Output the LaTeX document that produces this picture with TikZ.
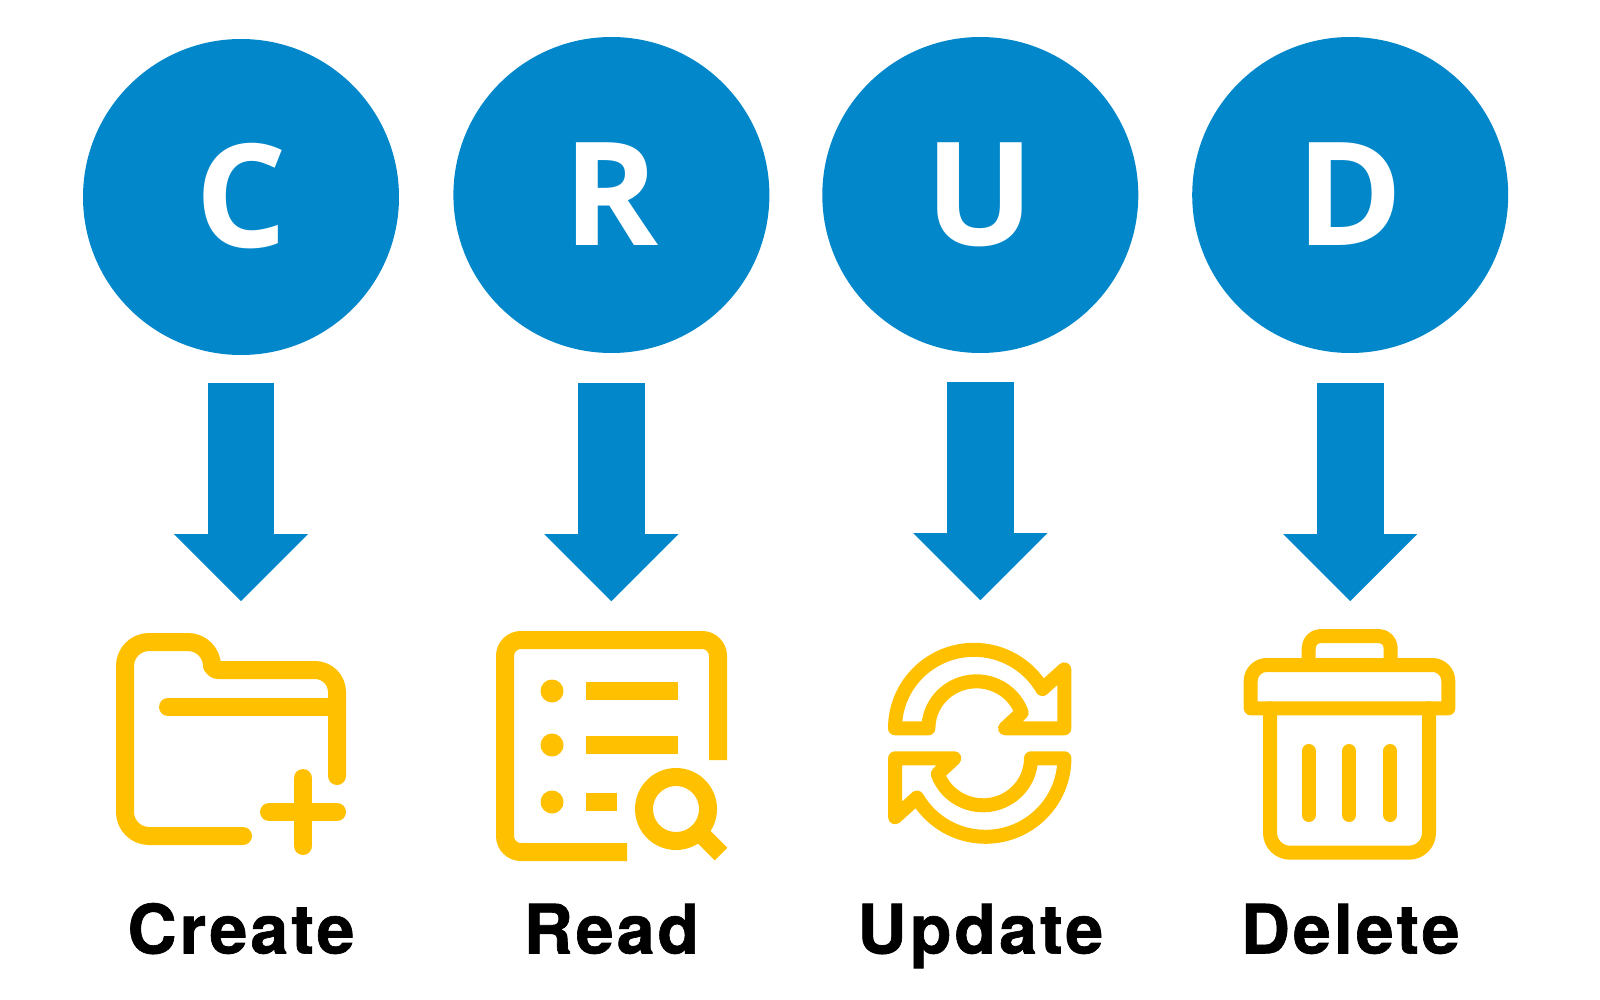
\documentclass[tikz,border=0pt]{standalone}
\usepackage{fontspec}
\newfontfamily\letterfont{Open Sans}
\newfontfamily\wordfont[LetterSpace=4.5,BoldFeatures={FakeBold=1}]{TeX Gyre Heros}
\usepackage{xcolor}
\definecolor{myblue}{RGB}{2,135,202}
\definecolor{myyellow}{RGB}{255,192,0}
\usetikzlibrary{positioning}
\usetikzlibrary{arrows.meta}
\tikzset{letter node/.style={circle,fill=myblue,text=white,minimum size=316pt,inner sep=0pt,text height=104pt,text depth=3.5pt,font=\letterfont\bfseries\fontsize{144}{144}\selectfont},}
\tikzset{word node/.style={inner sep=0pt,text height=50pt,text depth=0pt,font=\wordfont\bfseries\fontsize{68}{68}\selectfont},}
\tikzset{flow arrow/.style={color=myblue,line width=66.6pt,-{Triangle[width=134pt,length=67pt,line width=0pt]}},}
\tikzset{icon line/.style={draw=myyellow,line width=18pt,line cap=round,line join=round},}
\tikzset{icon bar/.style={draw=myyellow,line width=18pt},}

\begin{document}
\begin{tikzpicture}[x=1pt,y=-1pt]
	\useasboundingbox (0,0) rectangle (1600,1000);
	\node[letter node] (c) at (241,197) {C};
	\node[letter node] (r) [right = 54pt of c, yshift=2pt] {R};
	\node[letter node] (u) [right = 52.5pt of r] {U};
	\node[letter node] (d) [right = 53.5pt of u] {D};

	\coordinate[below = 246pt of c] (ctip);
	\coordinate[below = 248pt of r] (rtip);
	\coordinate[below = 247pt of u] (utip);
	\coordinate[below = 248pt of d] (dtip);

	\path[flow arrow]
	(c) edge [shorten <=28pt] (ctip)
	(r) edge [shorten <=30pt] (rtip)
	(u) edge [shorten <=29pt] (utip)
	(d) edge [shorten <=30pt] (dtip);

	% folder
	\draw[icon line] (243,836) [rounded corners=24pt] -- (125,836) -- (125,642) -- (212,642) [rounded corners=6pt] -- (212,670) [rounded corners=22pt] -- (337,670) -- (337,776);
	\draw[icon line] (168,707) -- (337,707);
	\draw[icon line] (303,778) -- (303,846);
	\draw[icon line] (269,812) -- (337,812);

	% list and magnifier
	\draw[icon bar,rounded corners=16pt] (627,852) -- (505,852) -- (505,640) -- (718,640) -- (718,760);
	\draw[icon bar] (586,691) -- (678,691);
	\draw[icon bar] (586,745) -- (678,745);
	\draw[icon bar] (586,802) -- (617,802);
	\fill[myyellow] (552,691) circle (11.5pt);
	\fill[myyellow] (552,745) circle (11.5pt);
	\fill[myyellow] (552,802) circle (11.5pt);
	\draw[icon bar] (676,809) circle (32pt);
	\draw[icon bar] (699,832) -- (721,854);

	% two arrows in a ring
	\foreach \turn in {0,180}
		\draw[icon line,line width=14pt,rotate around={\turn:(979.7,743.3)}] (895,728.3) arc[start angle=180,end angle=30,x radius=79pt,y radius=78.5pt] -- (1064.3,669.3) -- (1064.3,728.3) -- (1005,728.3) -- (1021.7,712.7) arc[start angle=19.4,end angle=180,x radius=48pt,y radius=47pt] -- cycle;

	% bin
	\draw[icon line,line width=14pt] (1250.7,708.3) [rounded corners=16pt] -- (1250.7,665) -- (1448.3,665) [rounded corners=0pt] -- (1448.3,708.3) -- cycle;
	\draw[icon line,line width=14pt,rounded corners=12pt] (1308.7,665) -- (1308.7,636) -- (1390.7,636) -- (1390.7,665);
	\draw[icon line,line width=14pt,rounded corners=20pt] (1270,708.3) -- (1270,852.7) -- (1429,852.7) -- (1429,708.3);
	\draw[icon line,line width=14pt] (1308.7,751) -- (1308.7,815);
	\draw[icon line,line width=14pt] (1349.3,751) -- (1349.3,815);
	\draw[icon line,line width=14pt] (1390.3,751) -- (1390.3,815);

	\node[word node] (create) [below = 302pt of ctip] {Create};
	\node[word node] (read) [below = 302pt of rtip] {Read};
	\node[word node] (update) [below = 303pt of utip] {Update};
	\node[word node] (delete) [below = 302pt of dtip] {Delete};
\end{tikzpicture}
\end{document}
